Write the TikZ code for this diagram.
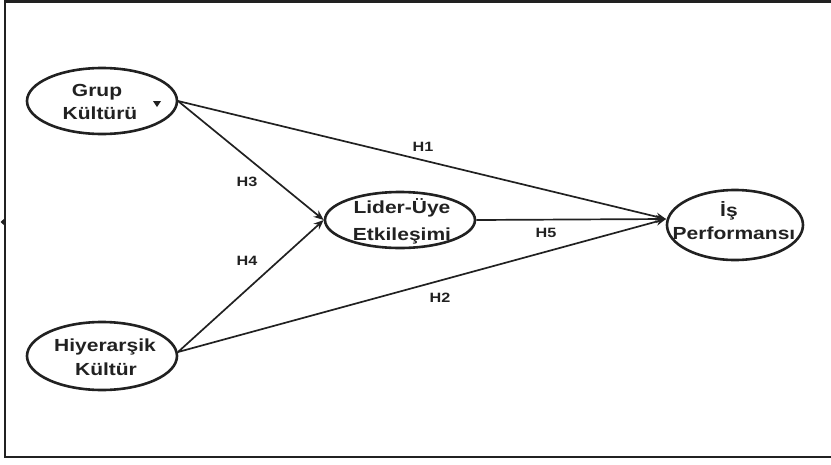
\documentclass[tikz,border=0pt]{standalone}
\usepackage{fontspec}
\setmainfont{Liberation Sans}
\newfontfamily\widesans[FakeStretch=1.2]{Liberation Sans}
\usetikzlibrary{shapes.geometric,arrows.meta}
\definecolor{ink}{gray}{0.13}
\tikzset{
  oval/.style={ellipse, draw=ink, line width=2.6pt, inner sep=0pt},
  txt/.style={inner sep=0pt, font=\widesans\fontsize{17.5}{20}\selectfont\bfseries, text=ink},
  hlab/.style={inner sep=0pt, font=\widesans\fontsize{13.5}{16}\selectfont\bfseries, text=ink},
  arr/.style={draw=ink, line width=1.7pt, -{Stealth[length=10pt,width=8pt]}},
  frame/.style={draw=ink, line width=2.6pt}
}
\begin{document}
\begin{tikzpicture}[x=1pt,y=-1pt]
\useasboundingbox (0,0) rectangle (831,464);
\draw[frame] (835,1.5) -- (5,1.5) -- (5,457) -- (835,457);
\fill[ink] (5,218) -- (0.5,222) -- (5,226) -- cycle;

\node[oval, minimum width=150pt, minimum height=66pt] (grup) at (102,101) {};
\node[oval, minimum width=150pt, minimum height=68pt] (hiy) at (102,356) {};
\node[oval, minimum width=150pt, minimum height=56pt] (lider) at (400,220) {};
\node[oval, minimum width=136pt, minimum height=70pt] (perf) at (735,225) {};

\node[txt] (grupA) at (97,92) {Grup};
\node[txt] (grupB) at (100,113) {Kültürü};
\fill[ink] (153,101) -- (161,101) -- (157,107) -- cycle;
\node[txt] (hiyA) at (105,347) {Hiyerarşik};
\node[txt] (hiyB) at (106,369) {Kültür};
\node[txt] (liderA) at (402,208) {Lider-Üye};
\node[txt] (liderB) at (402,236) {Etkileşimi};
\node[txt] (perfA) at (729,211) {İş};
\node[txt] (perfB) at (734,233) {Performansı};

\coordinate (pin) at (666,219);
\coordinate (grupout) at (178,101);
\coordinate (hiyout) at (178,352);

\draw[arr] (grupout) -- (lider.west);
\draw[arr] (hiyout) -- (lider.west);
\draw[arr] (grupout) -- (pin);
\draw[arr] (hiyout) -- (pin);
\draw[arr] (lider.east) -- (pin);

\node[hlab] (h1) at (423,147) {H1};
\node[hlab] (h3) at (247,182) {H3};
\node[hlab] (h4) at (247,261) {H4};
\node[hlab] (h5) at (546,233) {H5};
\node[hlab] (h2) at (440,298) {H2};
\end{tikzpicture}
\end{document}
